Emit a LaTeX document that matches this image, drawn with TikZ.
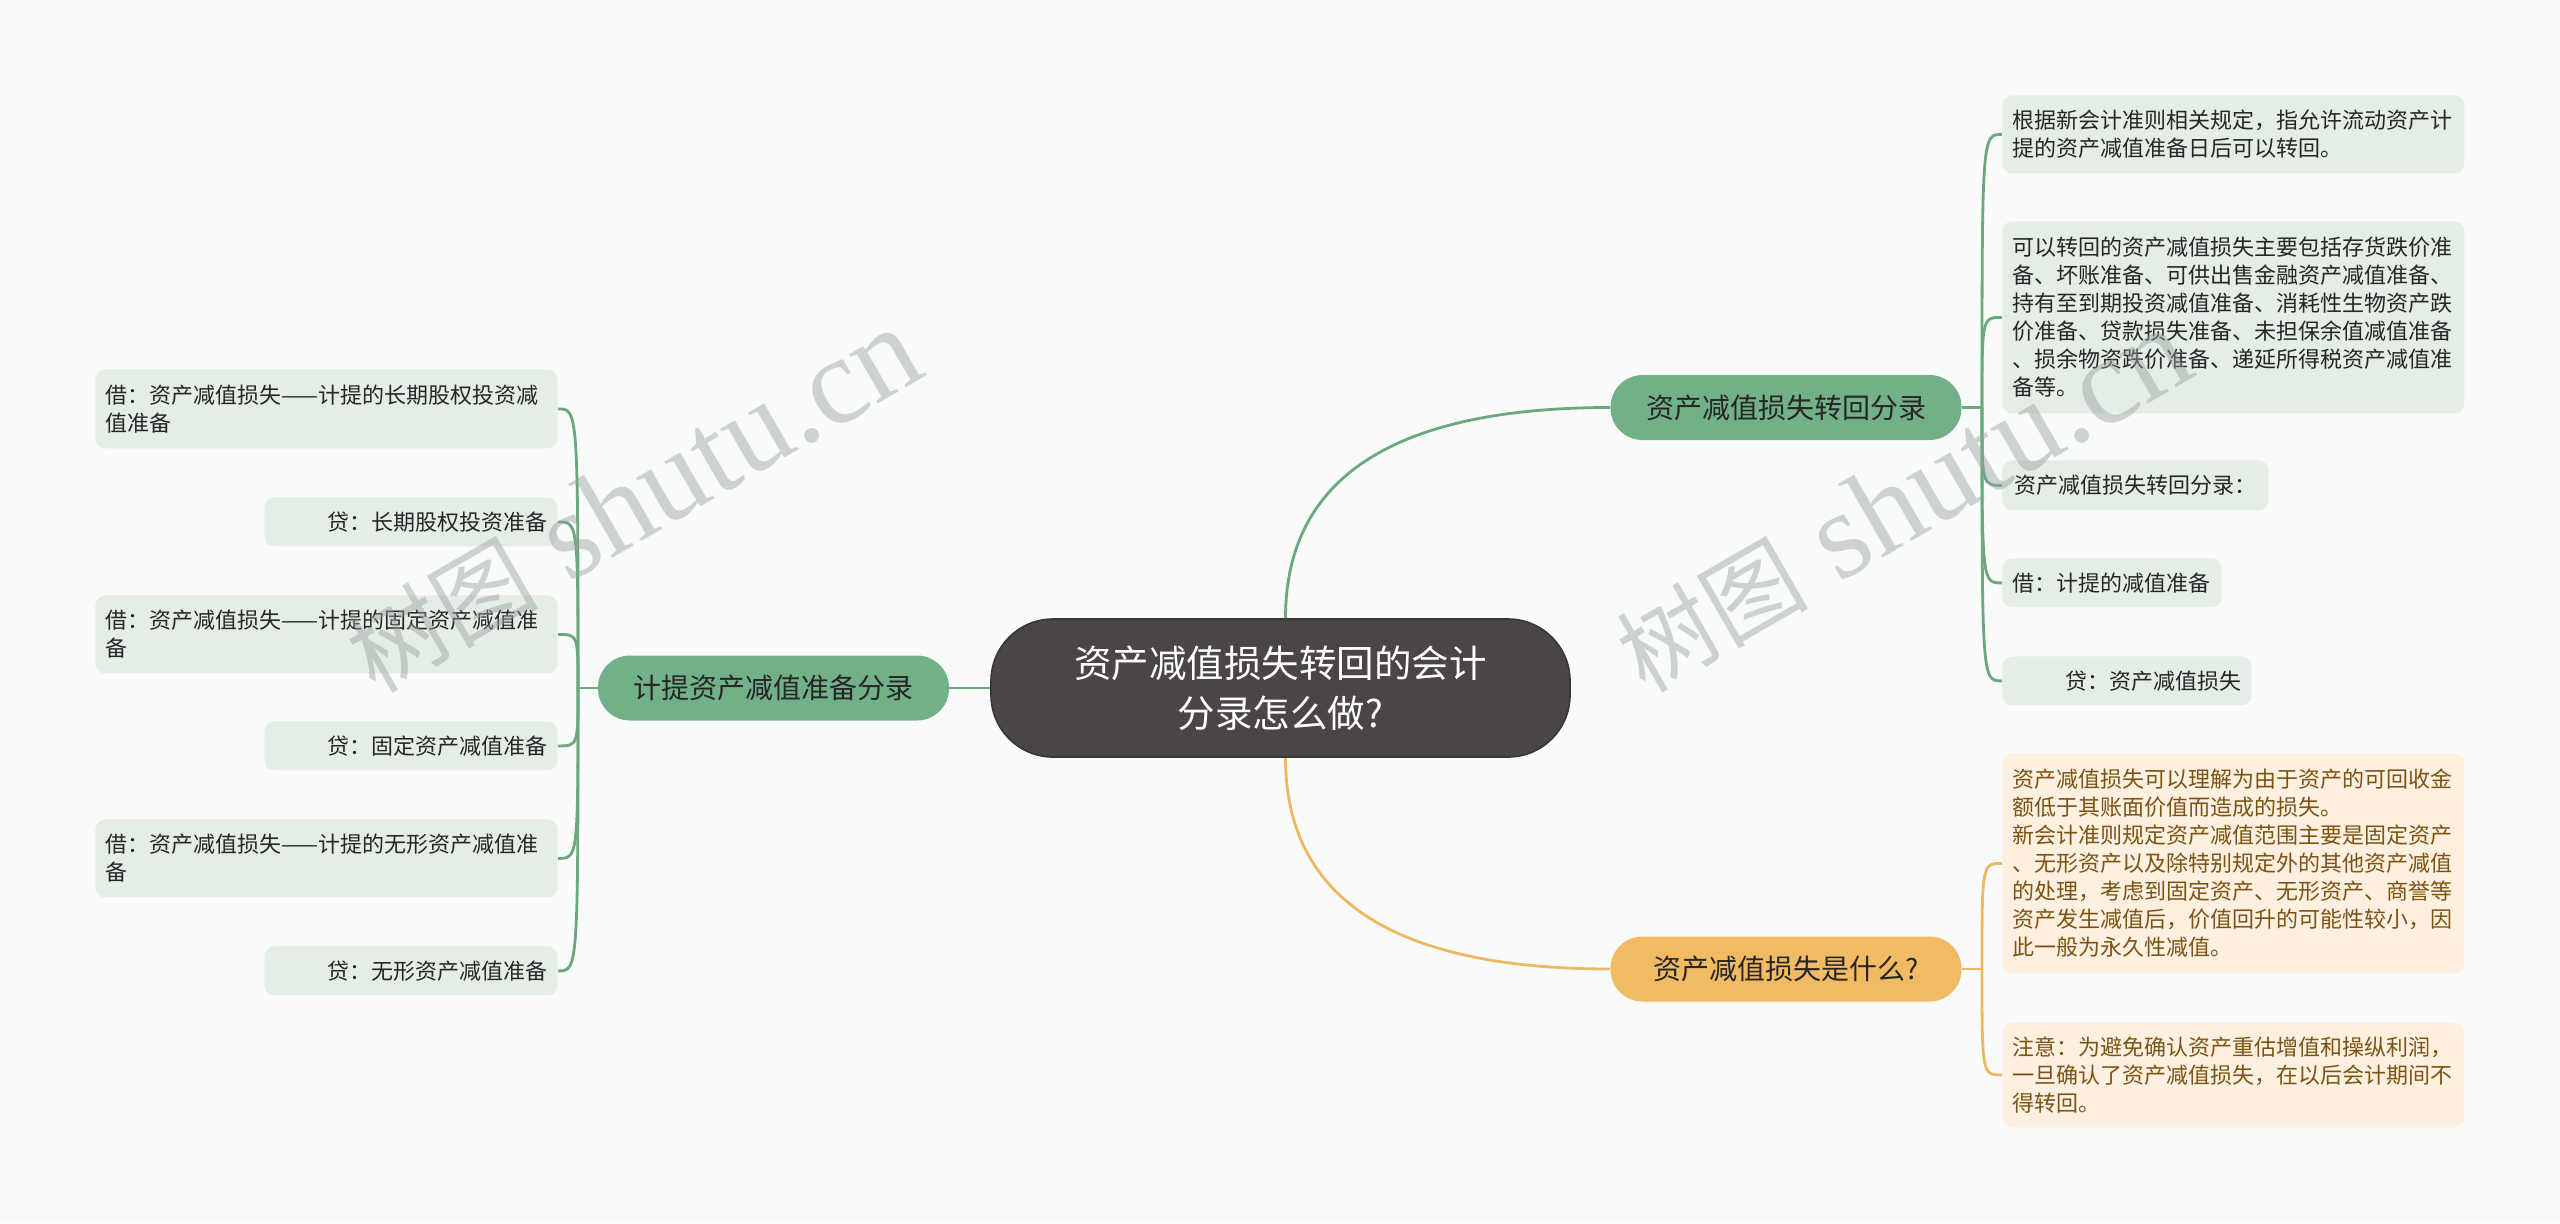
\documentclass[tikz,border=0pt]{standalone}
\usepackage{fontspec}
\setmainfont{Noto Sans CJK SC}
\newfontfamily\wmlatin{Liberation Serif}
\usetikzlibrary{calc}
\definecolor{bg}{HTML}{F9FBFB}
\definecolor{centerfill}{HTML}{4B4646}
\definecolor{centerdraw}{HTML}{3A3636}
\definecolor{branchgreen}{HTML}{72B088}
\definecolor{leafgreen}{HTML}{E4EEE6}
\definecolor{linegreen}{HTML}{6AA87E}
\definecolor{branchorange}{HTML}{F2BA62}
\definecolor{leaforange}{HTML}{FDF0E0}
\definecolor{lineorange}{HTML}{EDB860}
\definecolor{textdark}{HTML}{262626}
\definecolor{textbrown}{HTML}{7B5413}
\definecolor{wmgray}{HTML}{9AA0A0}
\pgfdeclarelayer{bglayer}
\pgfdeclarelayer{fglayer}
\pgfsetlayers{bglayer,main,fglayer}
\tikzset{
  leafbox/.style={fill=leafgreen, rounded corners=5pt, text=textdark,
    font=\fontsize{11}{14}\selectfont, inner xsep=5pt, inner ysep=0pt, anchor=north west},
  leafwide/.style={leafbox, text width=221pt, align=left},
  leafright/.style={leafbox, align=right},
  oleaf/.style={leafwide, fill=leaforange, text=textbrown},
  branchbox/.style={fill=branchgreen, rounded corners=16pt, text=textdark,
    font=\fontsize{14}{17}\selectfont, minimum width=175.5pt, minimum height=32.5pt, inner sep=0pt},
  obranch/.style={branchbox, fill=branchorange},
  centerbox/.style={fill=centerfill, draw=centerdraw, line width=0.8pt, rounded corners=31pt,
    text=white, font=\fontsize{18.75}{25}\selectfont, align=center,
    minimum width=289.5pt, minimum height=69pt, inner sep=0pt},
  gline/.style={draw=linegreen, line width=1.4pt},
  oline/.style={draw=lineorange, line width=1.4pt},
  wmark/.style={text=wmgray, text opacity=0.45, rotate=30, inner sep=0pt, anchor=base west}
}
\begin{document}
\begin{tikzpicture}[x=0.5pt,y=-0.5pt]
\useasboundingbox (0,0) rectangle (2560,1223);

% central topic
\node[centerbox] (C) at (1280.5,688) {资产减值损失转回的会计\\分录怎么做?};

% main branches
\node[branchbox] (BL) at (773.5,688) {计提资产减值准备分录};
\node[branchbox] (BR1) at (1786,407.5) {资产减值损失转回分录};
\node[obranch] (BR2) at (1786,969) {资产减值损失是什么?};

% left leaves
\node[leafwide, minimum height=39.5pt] (L1) at (95,369) {借：资产减值损失——计提的长期股权投资减\\值准备};
\node[leafright, text width=136.5pt, minimum height=24.5pt] (L2) at (264,497) {贷：长期股权投资准备};
\node[leafwide, minimum height=39pt] (L3) at (95,595) {借：资产减值损失——计提的固定资产减值准\\备};
\node[leafright, text width=136.5pt, minimum height=24.5pt] (L4) at (264,721) {贷：固定资产减值准备};
\node[leafwide, minimum height=39pt] (L5) at (95,819) {借：资产减值损失——计提的无形资产减值准\\备};
\node[leafright, text width=136.5pt, minimum height=24.5pt] (L6) at (264,946) {贷：无形资产减值准备};

% right green leaves
\node[leafwide, minimum height=39pt] (R1) at (2002,95) {根据新会计准则相关规定，指允许流动资产计\\提的资产减值准备日后可以转回。};
\node[leafwide, minimum height=96pt] (R2) at (2002,221) {可以转回的资产减值损失主要包括存货跌价准\\备、坏账准备、可供出售金融资产减值准备、\\持有至到期投资减值准备、消耗性生物资产跌\\价准备、贷款损失准备、未担保余值减值准备\\、损余物资跌价准备、递延所得税资产减值准\\备等。};
\node[leafbox, minimum width=133pt, minimum height=25pt] (R3) at (2002,460) {资产减值损失转回分录：};
\node[leafbox, minimum width=109.5pt, minimum height=24.5pt] (R4) at (2002,558) {借：计提的减值准备};
\node[leafright, text width=114.5pt, minimum height=24.5pt] (R5) at (2002,656) {贷：资产减值损失};

% right orange leaves
\node[oleaf, minimum height=110pt] (O1) at (2002,753) {资产减值损失可以理解为由于资产的可回收金\\额低于其账面价值而造成的损失。\\新会计准则规定资产减值范围主要是固定资产\\、无形资产以及除特别规定外的其他资产减值\\的处理，考虑到固定资产、无形资产、商誉等\\资产发生减值后，价值回升的可能性较小，因\\此一般为永久性减值。};
\node[oleaf, minimum height=52.5pt] (O2) at (2002,1022) {注意：为避免确认资产重估增值和操纵利润，\\一旦确认了资产减值损失，在以后会计期间不\\得转回。};

% junctions
\coordinate (JL) at (578,688);
\coordinate (JR1) at (1982,407.5);
\coordinate (JR2) at (1982,969);
\coordinate (S1) at ([xshift=2.5pt]C.north);
\coordinate (S2) at ([xshift=2.5pt]C.south);
\coordinate (Q1) at (S1 |- BR1.west);
\coordinate (Q2) at (S2 |- BR2.west);

\begin{pgfonlayer}{bglayer}
\fill[bg] (0,0) rectangle (2560,1223);
\draw[gline] (C.west) -- (BL.east);
\draw[gline] (BL.west) -- (JL);
\foreach \n in {L1,L2,L3,L4,L5,L6}
  \draw[gline] (JL) .. controls (JL |- \n.east) .. (\n.east);
\draw[gline] (S1) .. controls ($(S1)!0.6667!(Q1)$) and ($(BR1.west)!0.6667!(Q1)$) .. (BR1.west);
\draw[oline] (S2) .. controls ($(S2)!0.6667!(Q2)$) and ($(BR2.west)!0.6667!(Q2)$) .. (BR2.west);
\draw[gline] (BR1.east) -- (JR1);
\foreach \n in {R1,R2,R3,R4,R5}
  \draw[gline] (JR1) .. controls (JR1 |- \n.west) .. (\n.west);
\draw[oline] (BR2.east) -- (JR2);
\foreach \n in {O1,O2}
  \draw[oline] (JR2) .. controls (JR2 |- \n.west) .. (\n.west);
\end{pgfonlayer}

% watermarks
\begin{pgfonlayer}{fglayer}
\node[wmark] (W1) at (375,695) {{\fontsize{48}{48}\selectfont 树图}{\wmlatin\fontsize{62}{62}\selectfont\ shutu.cn}};
\node[wmark] (W2) at (1645,695) {{\fontsize{48}{48}\selectfont 树图}{\wmlatin\fontsize{62}{62}\selectfont\ shutu.cn}};
\end{pgfonlayer}
\end{tikzpicture}
\end{document}
